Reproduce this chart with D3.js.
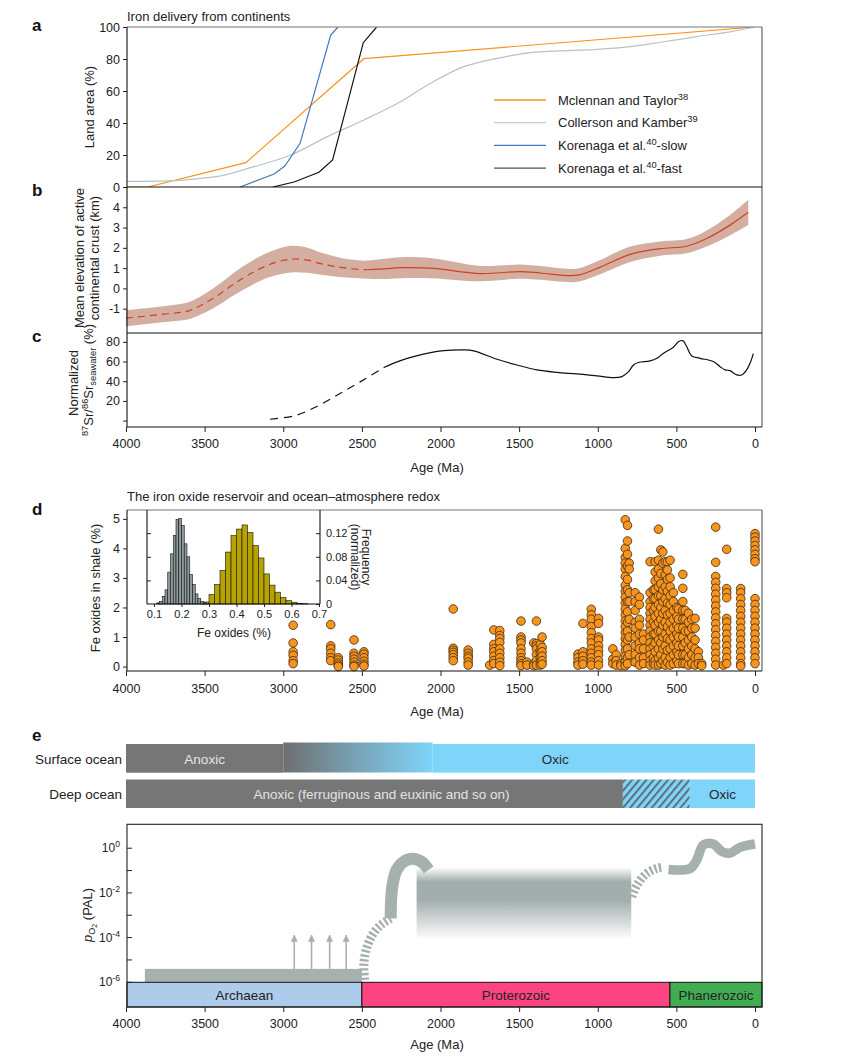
<!DOCTYPE html>
<html>
<head>
<meta charset="utf-8">
<script src="https://cdn.jsdelivr.net/npm/d3@7"></script>
<style>
body { margin: 0; background: #fff; }
svg { font-family: "Liberation Sans", Arial, sans-serif; }
</style>
</head>
<body>
<svg id="chart" width="863" height="1057"></svg>
<script>
const ageTicks = [4000, 3500, 3000, 2500, 2000, 1500, 1000, 500, 0]

// a: land area (%)
const mclennanAge = [4000, 3862, 3238, 2487, 0]
const mclennanLand = [0, 0, 15.2, 80.2, 100]
const collersonAge = [4000, 3735, 3524, 3397, 3185, 2952, 2719, 2487, 2254, 2063, 1852, 1640, 1429, 1217, 1005, 794, 582, 370, 159, 0]
const collersonLand = [3.5, 3.8, 5.4, 6.9, 12.7, 20, 31.5, 41.9, 53.3, 64.8, 75.2, 80.4, 84, 85.2, 86, 87.7, 90.8, 94, 97, 100]
const slowAge = [3274, 3058, 2990, 2893, 2698, 2652]
const slowLand = [0, 8.1, 13.1, 27.3, 95, 100]
const fastAge = [3067, 2931, 2773, 2686, 2491, 2406]
const fastLand = [0, 3.1, 9.2, 16.9, 90.2, 100]
const legendLabels = [
    [["Mclennan and Taylor", ""], ["38", "sup"]],
    [["Collerson and Kamber", ""], ["39", "sup"]],
    [["Korenaga et al.", ""], ["40", "sup"], ["-slow", ""]],
    [["Korenaga et al.", ""], ["40", "sup"], ["-fast", ""]]
]

// b: mean elevation of active continental crust (km)
const elevAge = [4000, 3735, 3608, 3524, 3418, 3312, 3206, 3100, 2995, 2931, 2846, 2762, 2677, 2571, 2465, 2360, 2254, 2063, 1746, 1492, 1365, 1175, 1111, 984, 794, 603, 434, 307, 159, 43]
const elevMean = [-1.47, -1.25, -1.12, -0.84, -0.35, 0.23, 0.73, 1.14, 1.39, 1.45, 1.39, 1.22, 1.09, 0.97, 0.92, 0.96, 1.02, 1.0, 0.73, 0.83, 0.76, 0.63, 0.68, 1.05, 1.68, 1.96, 2.08, 2.46, 3.12, 3.75]
const elevErr = [0.4, 0.4, 0.42, 0.45, 0.5, 0.55, 0.6, 0.62, 0.65, 0.65, 0.62, 0.55, 0.5, 0.45, 0.45, 0.5, 0.52, 0.5, 0.38, 0.35, 0.34, 0.33, 0.33, 0.35, 0.38, 0.35, 0.35, 0.4, 0.5, 0.62]

// c: normalized 87Sr/86Sr seawater (%)
const srAge = [3084, 2931, 2804, 2656, 2508, 2360, 2254, 2063, 1979, 1852, 1789, 1640, 1513, 1386, 1259, 1132, 1005, 900, 846, 804, 773, 741, 667, 624, 582, 519, 487, 459, 434, 402, 349, 265, 222, 190, 159, 116, 84, 53, 27, 11]
const srValue = [1.4, 4.8, 13, 26, 39.6, 54, 61, 69, 71, 71.8, 70.8, 62.3, 56.5, 51.5, 49, 47.4, 45.4, 43.7, 44.7, 49.7, 56.5, 59, 60.6, 63.3, 68.4, 74.5, 80.2, 81.2, 75, 65.7, 63.3, 60, 54.8, 51.5, 50.8, 46.4, 46.4, 51.5, 60, 68]

// d: Fe oxides in shale (%), one column of samples per age
const feAges = [2937, 2698, 2650, 2550, 2487, 1919, 1824, 1687, 1661, 1623, 1488, 1450, 1407, 1390, 1365, 1354, 1126, 1094, 1041, 995, 904, 883, 853, 825, 811, 800, 762, 735, 709, 667, 646, 635, 614, 599, 586, 571, 557, 540, 519, 497, 487, 459, 444, 423, 402, 381, 360, 339, 250, 201, 180, 91, 0]
const feValues = [
    [1.4, 0.8, 0.5, 0.38, 0.2, 0.1],
    [1.42, 0.7, 0.6, 0.45, 0.3, 0.2],
    [0.3, 0.22, 0.12, 0.05, 0],
    [0.9, 0.45, 0.35, 0.25, 0.15, 0.05, 0],
    [0.5, 0.42, 0.3, 0.18, 0.08, 0.02],
    [1.95, 0.62, 0.55, 0.48, 0.4, 0.3, 0.2],
    [0.56, 0.45, 0.35, 0.28, 0.15, 0.05],
    [0.05],
    [1.24, 0.75, 0.6, 0.5, 0.35, 0.2, 0.1],
    [1.22, 1.05, 0.95, 0.82, 0.6, 0.45, 0.3, 0.15, 0.03],
    [1.54, 1.0, 0.9, 0.8, 0.6, 0.45, 0.3, 0.2, 0.1, 0.03],
    [0.15, 0.05],
    [0.8, 0.1, 0.03],
    [1.54, 0.78, 0.7, 0.6, 0.4, 0.2, 0.05],
    [0.75, 0.55, 0.45, 0.3, 0.15, 0.05],
    [1.0, 0.65, 0.5, 0.35, 0.2, 0.08],
    [0.42, 0.3, 0.15, 0.05],
    [1.46, 0.5, 0.35, 0.2, 0.08],
    [1.94, 1.75, 1.6, 1.35, 1.15, 0.95, 0.8, 0.6, 0.45, 0.3, 0.15, 0.05],
    [1.63, 1.46, 1.0, 0.9, 0.7, 0.55, 0.4, 0.2, 0.05],
    [0.6, 0.25, 0.1],
    [0.4, 0.2, 0.05],
    [0.1, 0.03],
    [4.97, 4.0, 3.7, 3.5, 3.3, 3.05, 2.75, 2.55, 2.35, 2.15, 1.95, 1.75, 1.55, 1.35, 1.15, 0.95, 0.75, 0.55, 0.35, 0.15, 0.03],
    [4.78, 4.25, 3.8, 3.4, 2.95, 2.6, 2.2, 1.85, 1.5, 1.2, 0.9, 0.6, 0.3, 0.1],
    [3.5, 3.3, 2.5, 2.2, 1.6, 1.0, 0.4],
    [2.5, 2.2, 1.9, 1.5, 1.3, 1.0, 0.7, 0.4, 0.15],
    [2.35, 2.1, 1.6, 1.4, 1.1, 0.8, 0.6, 0.3, 0.05],
    [1.1, 0.9, 0.6, 0.3, 0.1],
    [3.55, 2.5, 2.2, 2.0, 1.8, 1.6, 1.4, 1.2, 1.0, 0.8, 0.6, 0.4, 0.2, 0.05],
    [2.6, 2.3, 1.9, 1.5, 1.1, 0.7, 0.3, 0.1],
    [3.55, 3.2, 2.9, 2.6, 2.3, 2.0, 1.7, 1.4, 1.1, 0.8, 0.5, 0.2, 0.05],
    [4.65, 3.6, 3.3, 3.0, 2.7, 2.4, 2.1, 1.8, 1.5, 1.2, 0.9, 0.6, 0.3, 0.05],
    [3.95, 3.15, 2.8, 2.4, 2.0, 1.6, 1.2, 0.8, 0.4, 0.1],
    [3.88, 3.5, 2.6, 2.2, 1.8, 1.4, 1.0, 0.6, 0.2],
    [3.55, 3.1, 2.7, 2.3, 1.9, 1.5, 1.1, 0.7, 0.3, 0.05],
    [3.55, 3.27, 2.95, 2.55, 2.15, 1.75, 1.35, 0.95, 0.55, 0.15],
    [3.6, 3.0, 2.7, 2.4, 2.1, 1.8, 1.5, 1.2, 0.9, 0.6, 0.3, 0.05],
    [2.5, 2.2, 1.9, 1.6, 1.3, 1.0, 0.7, 0.4, 0.1],
    [2.0, 1.7, 1.4, 1.1, 0.8, 0.5, 0.2],
    [1.95, 1.6, 1.3, 1.0, 0.7, 0.4, 0.1],
    [3.12, 2.65, 2.2, 1.9, 1.6, 1.3, 1.0, 0.7, 0.4, 0.1],
    [1.9, 1.6, 1.2, 0.8, 0.4, 0.1],
    [1.8, 1.5, 1.2, 0.9, 0.6, 0.3, 0.05],
    [1.6, 1.3, 1.0, 0.7, 0.4, 0.1],
    [1.63, 1.3, 0.9, 0.6, 0.3, 0.05],
    [0.5, 0.3, 0.1],
    [0.1, 0.03],
    [4.72, 3.53, 3.05, 2.85, 2.65, 2.45, 2.25, 2.05, 1.85, 1.65, 1.45, 1.25, 1.05, 0.85, 0.65, 0.45, 0.25, 0.05],
    [0.05],
    [3.97, 2.64, 2.5, 2.33, 1.63, 1.5, 1.3, 1.1, 0.9, 0.7, 0.5, 0.3, 0.1],
    [2.64, 2.5, 2.3, 2.1, 1.9, 1.7, 1.5, 1.3, 1.1, 0.9, 0.7, 0.5, 0.3, 0.1, 0.02],
    [4.5, 4.38, 4.25, 4.1, 3.95, 3.8, 3.65, 3.55, 2.3, 2.1, 1.9, 1.7, 1.5, 1.3, 1.1, 0.9, 0.7, 0.5, 0.3, 0.1]
]

// d inset: histograms of Fe oxides (%)
const grayBinLeft = [0.11, 0.12, 0.13, 0.14, 0.15, 0.16, 0.17, 0.18, 0.19, 0.20, 0.21, 0.22, 0.23, 0.24, 0.25, 0.26, 0.27, 0.28]
const grayFreq = [0.002, 0.0045, 0.013, 0.024, 0.054, 0.085, 0.116, 0.143, 0.145, 0.133, 0.102, 0.080, 0.050, 0.033, 0.017, 0.009, 0.0045, 0.002]
const oliveBinLeft = [0.28, 0.30, 0.32, 0.34, 0.36, 0.38, 0.40, 0.42, 0.44, 0.46, 0.48, 0.50, 0.52, 0.54, 0.56, 0.58, 0.60, 0.62, 0.64]
const oliveFreq = [0.0034, 0.016, 0.033, 0.057, 0.088, 0.116, 0.127, 0.134, 0.121, 0.099, 0.078, 0.051, 0.032, 0.020, 0.011, 0.0057, 0.003, 0.001, 0.0005]
const insetTicks = [0.1, 0.2, 0.3, 0.4, 0.5, 0.6, 0.7]
const freqTicks = [0, 0.04, 0.08, 0.12]

// e: ocean redox and pO2 (log10 PAL)
const surfaceBreaks = [4000, 3000, 2050, 0]
const surfaceLabels = ["Anoxic", "Oxic"]
const surfaceLabelAge = [3500, 1270]
const deepBreaks = [4000, 840, 415, 0]
const deepLabels = ["Anoxic (ferruginous and euxinic and so on)", "Oxic"]
const deepLabelAge = [2375, 206]
const eonNames = ["Archaean", "Proterozoic", "Phanerozoic"]
const eonStart = [4000, 2500, 541]
const eonEnd = [2500, 541, 0]
const o2Ticks = [0, -2, -4, -6]
const o2MinorTicks = [-1, -3, -5]
const archaeanO2Age = [3880, 2500]
const archaeanO2 = [-6, -5.4]
const arrowAge = [2930, 2820, 2705, 2600]
const arrowO2 = [-5.4, -3.9]
const goeDashAge = [2483, 2487, 2470, 2434, 2381, 2317]
const goeDashO2 = [-5.89, -5.16, -4.48, -3.89, -3.44, -3.14]
const goeAge = [2317, 2314, 2305, 2279, 2235, 2178, 2121, 2076]
const goeO2 = [-3.14, -2.32, -1.64, -0.97, -0.61, -0.47, -0.61, -0.97]
const midProtoAge = [2152, 787]
const midProtoO2 = [-0.85, -4.1]
const noeDashAge = [783, 751, 688, 624, 584]
const noeDashO2 = [-2.17, -1.65, -1.12, -0.9, -0.85]
const phanO2Age = [550, 413, 370, 328, 265, 211, 159, 95, 0]
const phanO2 = [-0.95, -0.91, -0.52, 0.15, 0.19, -0.15, -0.22, 0.04, 0.19]

const svg = d3.select("#chart")
const x = d3.scaleLinear().domain([4000, 0]).range([126, 755])
const left = 127
const right = 762
const ink = "#222"
const plain = d => String(d)

function add_parts(text_sel, parts) {
    let shift = 0
    parts.forEach(([t, kind]) => {
        const target = kind === "sup" ? -5 : kind === "sub" ? 3 : 0
        const ts = text_sel.append("tspan").attr("dy", target - shift).text(t)
        if (kind) ts.attr("font-size", "0.72em")
        shift = target
    })
}

function style_axis(g, size) {
    g.select(".domain").remove()
    g.selectAll("text").attr("font-size", size).attr("fill", ink).attr("font-family", "Liberation Sans, Arial, sans-serif")
    g.selectAll("line").attr("stroke", ink)
}

function hline(y, x1, x2, color) {
    svg.append("line").attr("x1", x1).attr("x2", x2).attr("y1", y).attr("y2", y).attr("stroke", color).attr("stroke-width", 1.1)
}
function vline(xp, y1, y2, color) {
    svg.append("line").attr("x1", xp).attr("x2", xp).attr("y1", y1).attr("y2", y2).attr("stroke", color).attr("stroke-width", 1.1)
}

function rot_label(parts, cx, cy, angle, size) {
    const t = svg.append("text")
        .attr("transform", `translate(${cx},${cy}) rotate(${angle})`)
        .attr("text-anchor", "middle").attr("font-size", size || 13).attr("fill", ink)
    add_parts(t, parts)
}

function panel_letter(letter, y) {
    svg.append("text").attr("x", 32).attr("y", y).attr("font-size", 17).attr("font-weight", "bold").attr("fill", "#111").text(letter)
}

const defs = svg.append("defs")
defs.append("clipPath").attr("id", "clipA").append("rect").attr("x", left).attr("y", 27).attr("width", right - left).attr("height", 160)

// ---------- panel a ----------
const yA = d3.scaleLinear().domain([0, 100]).range([187, 27])
panel_letter("a", 31)
svg.append("text").attr("x", left).attr("y", 21).attr("font-size", 13).attr("fill", ink).text("Iron delivery from continents")

const lineA = d3.line().x(d => x(d[0])).y(d => yA(d[1]))
const seriesA = [
    { ages: mclennanAge, vals: mclennanLand, color: "#f7941d", curve: d3.curveLinear },
    { ages: collersonAge, vals: collersonLand, color: "#b9c3c0", curve: d3.curveCatmullRom },
    { ages: slowAge, vals: slowLand, color: "#3f78be", curve: d3.curveLinear },
    { ages: fastAge, vals: fastLand, color: "#111", curve: d3.curveLinear }
]
const gA = svg.append("g").attr("clip-path", "url(#clipA)")
seriesA.forEach(s => {
    gA.append("path")
        .attr("d", lineA.curve(s.curve)(s.ages.map((a, i) => [a, s.vals[i]])))
        .attr("fill", "none").attr("stroke", s.color).attr("stroke-width", 1.2)
})
const axA = svg.append("g").attr("transform", `translate(${left},0)`)
    .call(d3.axisLeft(yA).tickValues([0, 20, 40, 60, 80, 100]).tickSize(4).tickPadding(3).tickFormat(plain))
style_axis(axA, 12.5)
rot_label([["Land area (%)", ""]], 94, 107, -90)

const legendColors = ["#f7941d", "#c5cdca", "#3f78be", "#555"]
legendLabels.forEach((parts, i) => {
    const ly = 100 + i * 22.7
    svg.append("line").attr("x1", 494).attr("x2", 546).attr("y1", ly).attr("y2", ly)
        .attr("stroke", legendColors[i]).attr("stroke-width", 1.3)
    const t = svg.append("text").attr("x", 558).attr("y", ly + 4.5).attr("font-size", 13).attr("fill", ink)
    add_parts(t, parts)
})

// ---------- panel b ----------
const yB = d3.scaleLinear().domain([-2.2, 5]).range([333, 187])
panel_letter("b", 196)
const idxB = d3.range(elevAge.length)
svg.append("path")
    .attr("d", d3.area().curve(d3.curveCatmullRom)
        .x(i => x(elevAge[i])).y0(i => yB(elevMean[i] - elevErr[i])).y1(i => yB(elevMean[i] + elevErr[i]))(idxB))
    .attr("fill", "#d4afa1")
const lineB = d3.line().curve(d3.curveCatmullRom).x(i => x(elevAge[i])).y(i => yB(elevMean[i]))
svg.append("path").attr("d", lineB(idxB.filter(i => elevAge[i] >= 2465)))
    .attr("fill", "none").attr("stroke", "#d33f1f").attr("stroke-width", 1.2).attr("stroke-dasharray", "7,5")
svg.append("path").attr("d", lineB(idxB.filter(i => elevAge[i] <= 2465)))
    .attr("fill", "none").attr("stroke", "#d33f1f").attr("stroke-width", 1.2)
const axB = svg.append("g").attr("transform", `translate(${left},0)`)
    .call(d3.axisLeft(yB).tickValues([-1, 0, 1, 2, 3, 4]).tickSize(4).tickPadding(3).tickFormat(plain))
style_axis(axB, 12.5)
const tb = svg.append("text").attr("transform", "translate(84,258) rotate(-90)").attr("text-anchor", "middle").attr("font-size", 13).attr("fill", ink)
tb.append("tspan").attr("x", 0).attr("dy", 0).text("Mean elevation of active")
tb.append("tspan").attr("x", 0).attr("dy", 15).text("continental crust (km)")

// ---------- panel c ----------
const yC = d3.scaleLinear().domain([-6.5, 89]).range([427, 333])
panel_letter("c", 342)
const idxC = d3.range(srAge.length)
const lineC = d3.line().curve(d3.curveCatmullRom).x(i => x(srAge[i])).y(i => yC(srValue[i]))
svg.append("path").attr("d", lineC(idxC.filter(i => srAge[i] >= 2360)))
    .attr("fill", "none").attr("stroke", "#111").attr("stroke-width", 1.2).attr("stroke-dasharray", "8,6")
svg.append("path").attr("d", lineC(idxC.filter(i => srAge[i] <= 2360)))
    .attr("fill", "none").attr("stroke", "#111").attr("stroke-width", 1.2)
const axC = svg.append("g").attr("transform", `translate(${left},0)`)
    .call(d3.axisLeft(yC).tickValues([0, 20, 40, 60, 80]).tickSize(4).tickPadding(3).tickFormat(d => d === 0 ? "" : String(d)))
style_axis(axC, 12.5)
const axCx = svg.append("g").attr("transform", "translate(0,427)")
    .call(d3.axisBottom(x).tickValues(ageTicks).tickSize(5).tickPadding(7).tickFormat(plain))
style_axis(axCx, 12.5)
svg.append("text").attr("x", 437).attr("y", 472).attr("text-anchor", "middle").attr("font-size", 13).attr("fill", ink).text("Age (Ma)")
rot_label([["Normalized", ""]], 78, 383, -90)
rot_label([["87", "sup"], ["Sr/", ""], ["86", "sup"], ["Sr", ""], ["seawater", "sub"], [" (%)", ""]], 93, 380, -90)

// frame a-c
hline(27, left, right, "#777")
vline(right, 27, 427, "#555")
hline(187, left, right, "#111")
hline(333, left, right, "#111")
hline(427, left, right, "#111")
vline(left, 27, 427, "#111")

// ---------- panel d ----------
const yD = d3.scaleLinear().domain([-0.14, 5.3]).range([670.7, 510])
panel_letter("d", 515)
svg.append("text").attr("x", left).attr("y", 501).attr("font-size", 13).attr("fill", ink).text("The iron oxide reservoir and ocean\u2013atmosphere redox")
const gD = svg.append("g")
feAges.forEach((age, i) => {
    gD.selectAll(null).data(feValues[i]).enter().append("circle")
        .attr("cx", x(age)).attr("cy", v => yD(v)).attr("r", 4.3)
        .attr("fill", "#f7941d").attr("stroke", "#3b2a12").attr("stroke-width", 0.8)
})
const axD = svg.append("g").attr("transform", `translate(${left},0)`)
    .call(d3.axisLeft(yD).tickValues([0, 1, 2, 3, 4, 5]).tickSize(4).tickPadding(3).tickFormat(plain))
style_axis(axD, 12.5)
const axDx = svg.append("g").attr("transform", "translate(0,671)")
    .call(d3.axisBottom(x).tickValues(ageTicks).tickSize(5).tickPadding(8).tickFormat(plain))
style_axis(axDx, 12.5)
svg.append("text").attr("x", 437).attr("y", 716).attr("text-anchor", "middle").attr("font-size", 13).attr("fill", ink).text("Age (Ma)")
rot_label([["Fe oxides in shale (%)", ""]], 100, 588, -90)
hline(510, left, right, "#777")
vline(right, 510, 671, "#555")
hline(671, left, right, "#111")
vline(left, 510, 671, "#111")

// inset histogram
const xI = d3.scaleLinear().domain([0.1, 0.7]).range([154, 319])
const yI = d3.scaleLinear().domain([0, 0.16]).range([604, 509.6])
const gI = svg.append("g")
function draw_bins(lefts, freqs, width, fill) {
    gI.selectAll(null).data(lefts).enter().append("rect")
        .attr("x", d => xI(d)).attr("width", d => xI(d + width) - xI(d))
        .attr("y", (d, i) => yI(freqs[i])).attr("height", (d, i) => yI(0) - yI(freqs[i]))
        .attr("fill", fill).attr("stroke", "#111").attr("stroke-width", 0.6)
}
draw_bins(oliveBinLeft, oliveFreq, 0.02, "#b6a200")
draw_bins(grayBinLeft, grayFreq, 0.01, "#8f9b9b")
const axIx = svg.append("g").attr("transform", "translate(0,604)")
    .call(d3.axisBottom(xI).tickValues(insetTicks).tickSize(3).tickPadding(3).tickFormat(d3.format(".1f")))
style_axis(axIx, 11)
const axIr = svg.append("g").attr("transform", "translate(320,0)")
    .call(d3.axisRight(yI).tickValues(freqTicks).tickSizeInner(-4).tickSizeOuter(0).tickPadding(6)
        .tickFormat(d => d === 0 ? "0" : d3.format(".2f")(d)))
style_axis(axIr, 11)
const axIl = svg.append("g").attr("transform", "translate(147,0)")
    .call(d3.axisLeft(yI).tickValues(freqTicks.slice(1)).tickSizeInner(-4).tickSizeOuter(0).tickFormat(""))
style_axis(axIl, 11)
vline(147, 510, 604, "#111")
vline(320, 510, 604, "#111")
hline(604, 147, 320, "#111")
svg.append("text").attr("x", 234).attr("y", 637).attr("text-anchor", "middle").attr("font-size", 12).attr("fill", ink).text("Fe oxides (%)")
svg.append("text").attr("transform", "translate(362,557) rotate(90)").attr("text-anchor", "middle").attr("font-size", 12).attr("fill", ink).text("Frequency")
svg.append("text").attr("transform", "translate(351,557) rotate(90)").attr("text-anchor", "middle").attr("font-size", 12).attr("fill", ink).text("(normalized)")

// ---------- panel e: ocean rows ----------
panel_letter("e", 741)
const narrow = "Liberation Sans Narrow, Arial Narrow, sans-serif"
const grayBar = "#767676"
const blueBar = "#7fd4fa"
const grad = defs.append("linearGradient").attr("id", "surfGrad").attr("x1", 0).attr("x2", 1).attr("y1", 0).attr("y2", 0)
grad.append("stop").attr("offset", 0).attr("stop-color", "#6f6f6f")
grad.append("stop").attr("offset", 0.5).attr("stop-color", "#78a4b8")
grad.append("stop").attr("offset", 1).attr("stop-color", blueBar)
const hatch = defs.append("pattern").attr("id", "hatch").attr("patternUnits", "userSpaceOnUse")
    .attr("width", 5.5).attr("height", 5.5).attr("patternTransform", "rotate(40)")
hatch.append("rect").attr("width", 5.5).attr("height", 5.5).attr("fill", blueBar)
hatch.append("line").attr("x1", 1).attr("x2", 1).attr("y1", 0).attr("y2", 5.5).attr("stroke", "#5f6f78").attr("stroke-width", 2)

const surfFills = [grayBar, "url(#surfGrad)", blueBar]
surfaceBreaks.slice(0, -1).forEach((a, i) => {
    svg.append("rect").attr("x", x(a)).attr("width", x(surfaceBreaks[i + 1]) - x(a))
        .attr("y", i === 1 ? 742.5 : 744).attr("height", i === 1 ? 30 : 28.7).attr("fill", surfFills[i])
})
const deepFills = [grayBar, "url(#hatch)", blueBar]
deepBreaks.slice(0, -1).forEach((a, i) => {
    svg.append("rect").attr("x", x(a)).attr("width", x(deepBreaks[i + 1]) - x(a))
        .attr("y", 779.5).attr("height", 28.5).attr("fill", deepFills[i])
})
surfaceLabels.forEach((t, i) => {
    svg.append("text").attr("x", x(surfaceLabelAge[i])).attr("y", 763.5).attr("text-anchor", "middle")
        .attr("font-family", narrow).attr("font-size", 13.5).attr("fill", i === 0 ? "#e4e4e4" : "#2a2a2a").text(t)
})
deepLabels.forEach((t, i) => {
    svg.append("text").attr("x", x(deepLabelAge[i])).attr("y", 798.5).attr("text-anchor", "middle")
        .attr("font-family", narrow).attr("font-size", 13.5).attr("fill", i === 0 ? "#e4e4e4" : "#2a2a2a").text(t)
})
svg.append("text").attr("x", 122).attr("y", 763.5).attr("text-anchor", "end").attr("font-family", narrow).attr("font-size", 13.5).attr("fill", ink).text("Surface ocean")
svg.append("text").attr("x", 122).attr("y", 798.5).attr("text-anchor", "end").attr("font-family", narrow).attr("font-size", 13.5).attr("fill", ink).text("Deep ocean")

// ---------- panel e: pO2 ----------
const yE = d3.scaleLog().domain([1e-6, Math.pow(10, 1.07)]).range([982.3, 824.3])
const yl = v => yE(Math.pow(10, v))
const o2Gray = "#a6b1af"

const fade = defs.append("linearGradient").attr("id", "boxFade").attr("x1", 0).attr("x2", 0).attr("y1", 0).attr("y2", 1)
fade.append("stop").attr("offset", 0).attr("stop-color", "#a2aeac").attr("stop-opacity", 0)
fade.append("stop").attr("offset", 0.2).attr("stop-color", "#a2aeac").attr("stop-opacity", 1)
fade.append("stop").attr("offset", 0.45).attr("stop-color", "#a2aeac").attr("stop-opacity", 1)
fade.append("stop").attr("offset", 1).attr("stop-color", "#a2aeac").attr("stop-opacity", 0)

defs.append("marker").attr("id", "arrowhead").attr("viewBox", "0 0 10 10").attr("refX", 9).attr("refY", 5)
    .attr("markerUnits", "userSpaceOnUse").attr("markerWidth", 7).attr("markerHeight", 8).attr("orient", "auto")
    .append("path").attr("d", "M0,0 L10,5 L0,10 z").attr("fill", o2Gray)

svg.append("rect").attr("x", x(archaeanO2Age[0])).attr("width", x(archaeanO2Age[1]) - x(archaeanO2Age[0]))
    .attr("y", yl(archaeanO2[1])).attr("height", yl(archaeanO2[0]) - yl(archaeanO2[1])).attr("fill", o2Gray)
arrowAge.forEach(a => {
    svg.append("line").attr("x1", x(a)).attr("x2", x(a)).attr("y1", yl(arrowO2[0])).attr("y2", yl(arrowO2[1]))
        .attr("stroke", o2Gray).attr("stroke-width", 1.6).attr("marker-end", "url(#arrowhead)")
})
const lineE = d3.line().curve(d3.curveCatmullRom).x(d => x(d[0])).y(d => yl(d[1]))
svg.append("path").attr("d", lineE(goeDashAge.map((a, i) => [a, goeDashO2[i]])))
    .attr("fill", "none").attr("stroke", o2Gray).attr("stroke-width", 9).attr("stroke-dasharray", "2.4,2.2")
svg.append("path").attr("d", lineE(goeAge.map((a, i) => [a, goeO2[i]])))
    .attr("fill", "none").attr("stroke", o2Gray).attr("stroke-width", 12)
svg.append("rect").attr("x", x(midProtoAge[0])).attr("width", x(midProtoAge[1]) - x(midProtoAge[0]))
    .attr("y", yl(midProtoO2[0])).attr("height", yl(midProtoO2[1]) - yl(midProtoO2[0])).attr("fill", "url(#boxFade)")
svg.append("path").attr("d", lineE(noeDashAge.map((a, i) => [a, noeDashO2[i]])))
    .attr("fill", "none").attr("stroke", o2Gray).attr("stroke-width", 9).attr("stroke-dasharray", "2.4,2.2")
svg.append("path").attr("d", lineE(phanO2Age.map((a, i) => [a, phanO2[i]])))
    .attr("fill", "none").attr("stroke", o2Gray).attr("stroke-width", 9.5)

// eon bar
const eonColors = ["#aecbec", "#fd4482", "#40ad52"]
eonNames.forEach((n, i) => {
    const x0 = Math.max(x(eonStart[i]), left)
    const x1 = i === eonNames.length - 1 ? right : x(eonEnd[i])
    svg.append("rect").attr("x", x0).attr("width", x1 - x0).attr("y", 982.3).attr("height", 24.7)
        .attr("fill", eonColors[i]).attr("stroke", "#111").attr("stroke-width", 1)
    svg.append("text").attr("x", (x0 + x1) / 2).attr("y", 999.5).attr("text-anchor", "middle")
        .attr("font-size", 13.5).attr("fill", "#222").text(n)
})

// pO2 axes and frame
svg.append("rect").attr("x", left).attr("y", 824.3).attr("width", right - left).attr("height", 1007 - 824.3)
    .attr("fill", "none").attr("stroke", ink).attr("stroke-width", 1.1)
o2Ticks.forEach(v => {
    svg.append("line").attr("x1", left).attr("x2", left + 5).attr("y1", yl(v)).attr("y2", yl(v)).attr("stroke", ink)
    const t = svg.append("text").attr("x", 120).attr("y", yl(v) + 4).attr("text-anchor", "end").attr("font-size", 12).attr("fill", ink)
    add_parts(t, [["10", ""], [v === 0 ? "0" : "-" + Math.abs(v), "sup"]])
})
o2MinorTicks.forEach(v => {
    svg.append("line").attr("x1", left).attr("x2", left + 5).attr("y1", yl(v)).attr("y2", yl(v)).attr("stroke", ink)
})
const axEx = svg.append("g").attr("transform", "translate(0,1007)")
    .call(d3.axisBottom(x).tickValues(ageTicks).tickSize(5).tickPadding(7).tickFormat(plain))
style_axis(axEx, 12.5)
svg.append("text").attr("x", 437).attr("y", 1049).attr("text-anchor", "middle").attr("font-size", 13).attr("fill", ink).text("Age (Ma)")
const tp = svg.append("text").attr("transform", "translate(92,915) rotate(-90)").attr("text-anchor", "middle").attr("font-size", 13).attr("fill", ink)
tp.append("tspan").attr("font-style", "italic").text("p")
tp.append("tspan").attr("font-size", "0.7em").attr("dy", 3).text("O")
tp.append("tspan").attr("font-size", "0.55em").attr("dy", 2).text("2")
tp.append("tspan").attr("dy", -5).text(" (PAL)")
</script>
</body>
</html>
